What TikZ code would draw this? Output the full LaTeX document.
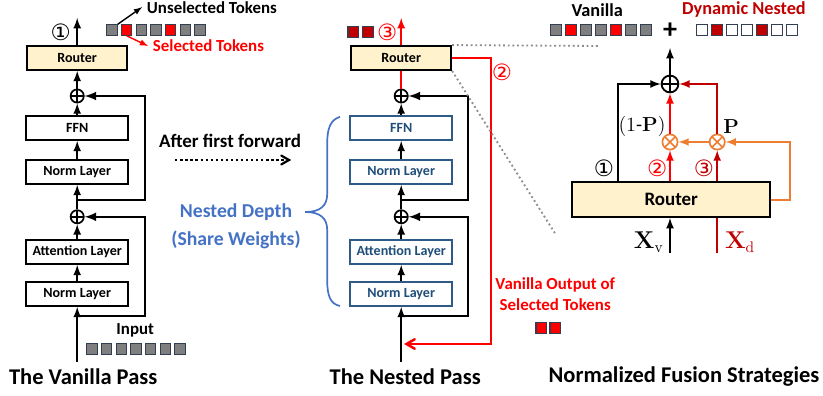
\documentclass[tikz,border=0pt]{standalone}
\usepackage{amsmath}
\usepackage[no-math]{fontspec}
\setmainfont{Carlito}
\newfontfamily\circfont{DejaVu Sans}
\usepackage{xcolor}
\usepackage{tikz}
\usetikzlibrary{arrows,calc}

\definecolor{rtyellow}{HTML}{FFF2CC}
\definecolor{boxedge}{HTML}{2E5A88}
\definecolor{boxtext}{HTML}{1F4E79}
\definecolor{nestblue}{HTML}{4472C4}
\definecolor{selred}{HTML}{FF0000}
\definecolor{dkred}{HTML}{C00000}
\definecolor{fuseorange}{HTML}{ED7D31}
\definecolor{tokgray}{HTML}{7F7F7F}
\definecolor{tokedge}{HTML}{333F50}
\definecolor{dotgray}{HTML}{8C8C8C}

\begin{document}
\begin{tikzpicture}[
    >=latex,
    blk/.style={rectangle, draw, line width=1.3pt, minimum width=2.55cm,
                minimum height=0.6cm, inner sep=2pt,
                font=\bfseries\fontsize{10}{12}\selectfont},
    nblk/.style={blk, draw=boxedge, text=boxtext},
    rt/.style={blk, fill=rtyellow, minimum width=2.5cm},
    tok/.style={rectangle, draw=tokedge, line width=0.8pt,
                minimum size=0.26cm, inner sep=0pt},
    oplus/.style={circle, draw, line width=1.2pt, minimum size=0.33cm, inner sep=0pt,
                  path picture={\draw[line width=1.1pt]
                    (path picture bounding box.north) -- (path picture bounding box.south)
                    (path picture bounding box.west) -- (path picture bounding box.east);}},
    otim/.style={circle, draw=fuseorange, line width=1.2pt, minimum size=0.38cm, inner sep=0pt,
                 path picture={\draw[fuseorange, line width=1.1pt]
                   (path picture bounding box.north west) -- (path picture bounding box.south east)
                   (path picture bounding box.north east) -- (path picture bounding box.south west);}},
    arr/.style={line width=1.5pt, ->},
    res/.style={line width=1.8pt, ->},
    lbl/.style={font=\bfseries\fontsize{12}{15}\selectfont},
    ttl/.style={font=\bfseries\fontsize{16}{19}\selectfont},
    num/.style={font=\circfont\fontsize{16}{18}\selectfont, inner sep=0pt},
  ]
  \useasboundingbox (0,0) rectangle (20.575,9.9);

  % The vanilla pass
  \node[rt] (vrt) at (1.93, 8.45) {Router};
  \node[oplus] (vp1) at (1.93, 7.5) {};
  \node[blk] (vffn) at (1.93, 6.7) {FFN};
  \node[blk] (vn1) at (1.93, 5.6) {Norm Layer};
  \node[oplus] (vp2) at (1.93, 4.48) {};
  \node[blk] (vatt) at (1.93, 3.6) {Attention Layer};
  \node[blk] (vn2) at (1.93, 2.55) {Norm Layer};
  \coordinate (vin) at (1.93, 0.85);
  \coordinate (vout) at (1.93, 9.45);
  \coordinate (vs1) at (1.93, 4.9);
  \coordinate (vs2) at (1.93, 2.0);

  \draw[arr] (vin) -- (vn2);
  \draw[arr] (vn2) -- (vatt);
  \draw[arr] (vatt) -- (vp2);
  \draw[arr] (vp2) -- (vn1);
  \draw[arr] (vn1) -- (vffn);
  \draw[arr] (vffn) -- (vp1);
  \draw[arr] (vp1) -- (vrt);
  \draw[arr] (vrt) -- (vout);
  \draw[res] (vs2) -- ++(1.7,0) |- (vp2);
  \draw[res] (vs1) -- ++(1.7,0) |- (vp1);

  \node[num] (vc1) at (1.52, 9.1) {①};
  \foreach \c [count=\i from 0] in {tokgray,selred,tokgray,tokgray,selred,tokgray,tokgray}
    \node[tok, fill=\c] (vt\i) at ({2.8+0.367*\i}, 9.15) {};
  \node[lbl, anchor=west] (uns) at (3.55, 9.72) {Unselected Tokens};
  \node[lbl, anchor=west, text=selred] (sel) at (3.7, 8.75) {Selected Tokens};
  \draw[line width=1pt, ->] (vt0.north east) -- (uns.west);
  \draw[line width=1pt, ->, selred] (vt1.south) -- (sel.west);

  \node[lbl] (vinl) at (3.38, 1.63) {Input};
  \foreach \i in {0,...,6}
    \node[tok, fill=tokgray] (it\i) at ({2.3+0.367*\i}, 1.175) {};
  \node[ttl] (vttl) at (2.08, 0.48) {The Vanilla Pass};

  % Between the passes
  \node[font=\bfseries\fontsize{13.5}{16}\selectfont] (aff) at (5.75, 6.37) {After first forward};
  \coordinate (ffs) at (4.38, 5.9);
  \coordinate (ffe) at (7.28, 5.9);
  \draw[line width=1.6pt, dotted, -angle 60] (ffs) -- (ffe);

  \node[font=\bfseries\fontsize{14}{17}\selectfont, text=nestblue] (nd1) at (5.9, 4.6) {Nested Depth};
  \node[font=\bfseries\fontsize{14}{17}\selectfont, text=nestblue] (nd2) at (5.9, 3.9) {(Share Weights)};
  \draw[nestblue, line width=1.2pt] (8.5,6.98) .. controls (8.26,6.9) and (8.18,6.7) .. (8.18,6.3)
    -- (8.18,5.05) .. controls (8.18,4.75) and (8.0,4.6) .. (7.63,4.6)
    .. controls (8.0,4.6) and (8.18,4.45) .. (8.18,4.15)
    -- (8.18,2.9) .. controls (8.18,2.5) and (8.26,2.3) .. (8.5,2.25);

  % The nested pass
  \node[rt] (nrt) at (10.03, 8.45) {Router};
  \node[oplus] (np1) at (10.03, 7.5) {};
  \node[nblk] (nffn) at (10.03, 6.7) {FFN};
  \node[nblk] (nn1) at (10.03, 5.6) {Norm Layer};
  \node[oplus] (np2) at (10.03, 4.48) {};
  \node[nblk] (natt) at (10.03, 3.6) {Attention Layer};
  \node[nblk] (nn2) at (10.03, 2.55) {Norm Layer};
  \coordinate (nin) at (10.03, 0.85);
  \coordinate (nout) at (10.03, 9.45);
  \coordinate (ns1) at (10.03, 4.9);
  \coordinate (ns2) at (10.03, 2.0);
  \coordinate (nret) at (10.1, 1.3);

  \draw[arr] (nin) -- (nn2);
  \draw[arr] (nn2) -- (natt);
  \draw[arr] (natt) -- (np2);
  \draw[arr] (np2) -- (nn1);
  \draw[arr] (nn1) -- (nffn);
  \draw[arr] (nffn) -- (np1);
  \draw[line width=1.6pt, selred] (np1) -- (nrt);
  \draw[arr, selred] (nrt) -- (nout);
  \draw[res] (ns2) -- ++(1.67,0) |- (np2);
  \draw[res] (ns1) -- ++(1.67,0) |- (np1);
  \draw[line width=1.8pt, selred, -angle 60] (nrt.east) -- ++(0.97,0) |- (nret);

  \node[tok, fill=dkred] (nt0) at (8.83, 9.1) {};
  \node[tok, fill=dkred] (nt1) at (9.2, 9.1) {};
  \node[num, text=selred] (nc3) at (9.68, 9.1) {③};
  \node[num, text=selred] (nc2) at (12.55, 8.1) {②};

  \node[lbl, text=selred, align=center] (vos) at (13.88, 2.55) {Vanilla Output of\\Selected Tokens};
  \node[tok, fill=selred] (ot0) at (13.53, 1.7) {};
  \node[tok, fill=selred] (ot1) at (13.88, 1.7) {};
  \node[ttl] (nttl) at (10.13, 0.48) {The Nested Pass};

  % Zoom lines
  \coordinate (zt) at (15.0, 8.75);
  \coordinate (zb) at (13.9, 4.03);
  \draw[dotgray, line width=1.3pt, dotted] (nrt.north east) -- (zt);
  \draw[dotgray, line width=1.3pt, dotted] (nrt.south east) -- (zb);

  % Normalized fusion
  \node[lbl, font=\bfseries\fontsize{13}{15}\selectfont] (van) at (14.93, 9.65) {Vanilla};
  \node[lbl, font=\bfseries\fontsize{13}{15}\selectfont, text=dkred] (dyn) at (18.6, 9.65) {Dynamic Nested};
  \foreach \c [count=\i from 0] in {tokgray,selred,tokgray,tokgray,selred,tokgray,tokgray}
    \node[tok, fill=\c] (ft\i) at ({13.9+0.375*\i}, 9.15) {};
  \node[font=\bfseries\fontsize{20}{20}\selectfont] (plus) at (16.75, 9.12) {+};
  \foreach \c [count=\i from 0] in {white,dkred,white,white,dkred,white,white}
    \node[tok, fill=\c] (dt\i) at ({17.55+0.375*\i}, 9.15) {};

  \node[rt, minimum width=4.95cm, minimum height=0.875cm,
        font=\bfseries\fontsize{13.5}{16}\selectfont] (frt) at (16.78, 4.91) {Router};
  \node[oplus, minimum size=0.42cm, line width=1.3pt] (fsum) at (16.75, 7.8) {};
  \node[otim] (fm2) at (16.75, 6.35) {};
  \node[otim] (fm3) at (17.93, 6.35) {};
  \coordinate (fout) at (16.75, 8.7);
  \coordinate (fv) at (15.45, 5.35);
  \coordinate (fturn) at (19.75, 6.35);
  \coordinate (fxv) at (16.75, 3.58);
  \coordinate (fxd) at (17.93, 3.58);

  \draw[arr] (fsum) -- (fout);
  \draw[arr] (fv) |- (fsum);
  \draw[arr, selred] (frt.north -| fm2) -- (fm2);
  \draw[arr, selred] (fm2) -- (fsum);
  \draw[arr, dkred] (frt.north -| fm3) -- (fm3);
  \draw[arr, dkred] (fm3) |- (fsum);
  \draw[arr, fuseorange] (frt.east) -| (fturn) -- (fm3);
  \draw[arr, fuseorange] (fm3) -- (fm2);
  \draw[arr] (fxv) -- (frt.south -| fxv);
  \draw[line width=1.5pt, dkred] (fxd) -- (frt.south -| fxd);

  \node[num] (fc1) at (15.1, 5.7) {①};
  \node[num, text=selred] (fc2) at (16.43, 5.7) {②};
  \node[num, text=dkred] (fc3) at (17.6, 5.7) {③};
  \node[font=\fontsize{14}{16}\selectfont] (omp) at (16.05, 6.73) {$(1\text{-}\mathbf{P})$};
  \node[font=\fontsize{14}{16}\selectfont] (pp) at (18.28, 6.73) {$\mathbf{P}$};
  \node[font=\fontsize{16}{18}\selectfont] (xv) at (16.22, 3.85) {$\mathbf{X}_\mathrm{v}$};
  \node[font=\fontsize{16}{18}\selectfont, text=dkred] (xd) at (18.5, 3.85) {$\mathbf{X}_\mathrm{d}$};
  \node[ttl] (fttl) at (17.1, 0.48) {Normalized Fusion Strategies};
\end{tikzpicture}
\end{document}
